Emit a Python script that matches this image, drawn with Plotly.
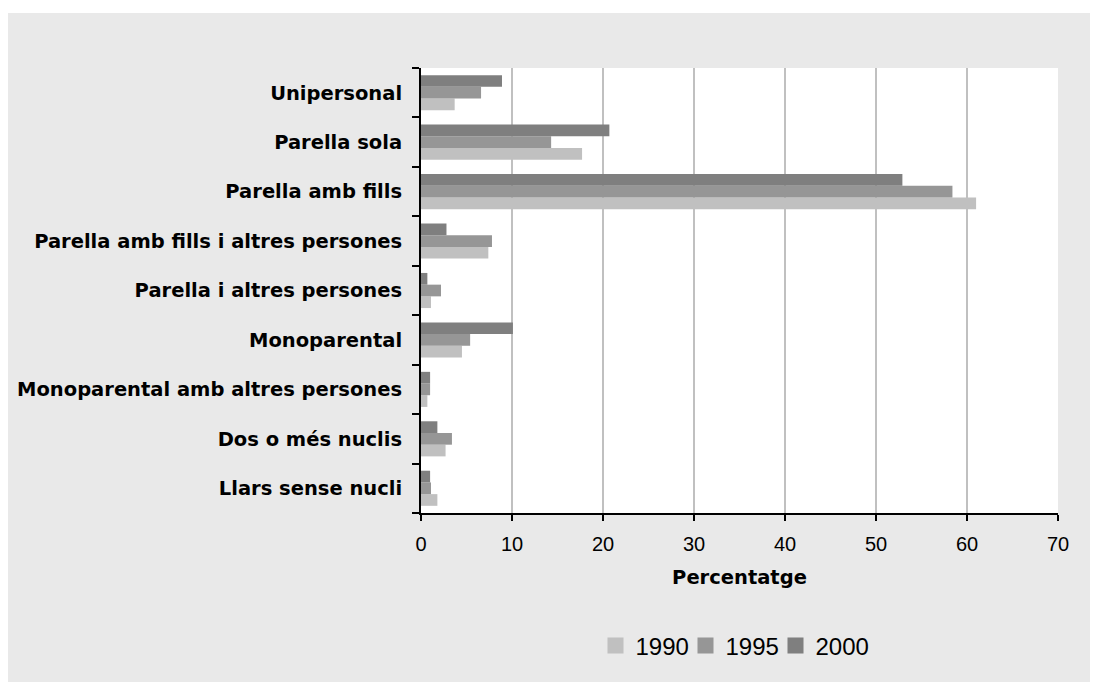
import plotly.graph_objects as go

categories = [
    "Unipersonal",
    "Parella sola",
    "Parella amb fills",
    "Parella amb fills i altres persones",
    "Parella i altres persones",
    "Monoparental",
    "Monoparental amb altres persones",
    "Dos o més nuclis",
    "Llars sense nucli",
]
years = ["1990", "1995", "2000"]
v1990 = [3.7, 17.7, 61.0, 7.4, 1.1, 4.5, 0.7, 2.7, 1.8]
v1995 = [6.6, 14.3, 58.4, 7.8, 2.2, 5.4, 1.0, 3.4, 1.1]
v2000 = [8.9, 20.7, 52.9, 2.8, 0.7, 10.1, 1.0, 1.8, 1.0]
x_ticks = [0, 10, 20, 30, 40, 50, 60, 70]
x_title = "Percentatge"

colors = {"1990": "#c0c0c0", "1995": "#969696", "2000": "#7f7f7f"}
series = {"1990": v1990, "1995": v1995, "2000": v2000}

fig = go.Figure()
for yr in years:
    fig.add_trace(go.Bar(
        y=categories, x=series[yr], orientation="h", name=yr,
        marker=dict(color=colors[yr], line=dict(width=0)),
        showlegend=False,
    ))
for i, yr in enumerate(years):
    fig.add_trace(go.Scatter(
        x=[None], y=[None], mode="markers", name=yr,
        marker=dict(symbol="square", size=16, color=colors[yr]),
        showlegend=True,
        legendwidth=70 if i == len(years) - 1 else 45,
    ))

# page body has an 8px margin, so figure coordinates = screen - 8
OFF = 8
W, H = 1098 - OFF, 682 - OFF
L, T = 421 - OFF, 68 - OFF
R = W - (1058 - OFF)
B = H - (513 - OFF)
pw, ph = W - L - R, H - T - B

def px_x(p):
    return (p - OFF - L) / pw

def px_y(p):
    return (H - B - (p - OFF)) / ph

fig.update_layout(
    width=W, height=H,
    margin=dict(l=L, r=R, t=T, b=B, autoexpand=False),
    paper_bgcolor="#e9e9e9",
    plot_bgcolor="#ffffff",
    barmode="group",
    bargap=0.29,
    bargroupgap=0,
    font=dict(family="Liberation Sans, Arial, sans-serif", color="#000000"),
    legend=dict(
        orientation="h", x=px_x(595.5), xanchor="left", y=px_y(646), yanchor="middle",
        font=dict(size=24, family="Liberation Sans, Arial, sans-serif", color="#000000"),
        bgcolor="rgba(0,0,0,0)", itemwidth=30, traceorder="normal",
        entrywidthmode="pixels",
    ),
    xaxis=dict(
        range=[0, 70], tickvals=x_ticks, ticks="outside", ticklen=6, tickwidth=2,
        tickcolor="#000000", showline=True, linecolor="#000000", linewidth=2,
        showgrid=True, gridcolor="#c0c0c0", gridwidth=2, zeroline=False,
        tickfont=dict(size=20), ticklabelstandoff=6,
        title=dict(text=x_title, font=dict(family="DejaVu Sans", size=19.5, weight="bold"),
                   standoff=16),
        fixedrange=True,
    ),
    yaxis=dict(
        categoryorder="array", categoryarray=categories[::-1],
        tickson="boundaries", ticks="outside", ticklen=7, tickwidth=2,
        tickcolor="#000000", showline=True, linecolor="#000000", linewidth=2,
        showgrid=False, zeroline=False,
        tickfont=dict(family="DejaVu Sans", size=19.5, weight="bold"),
        ticklabelstandoff=13,
        fixedrange=True,
    ),
    shapes=[
        dict(type="rect", xref="paper", yref="paper", layer="above",
             x0=px_x(-20), x1=px_x(1200), y0=px_y(13), y1=px_y(-20),
             fillcolor="#ffffff", line=dict(width=0)),
    ],
)

fig.write_html("out.html")
